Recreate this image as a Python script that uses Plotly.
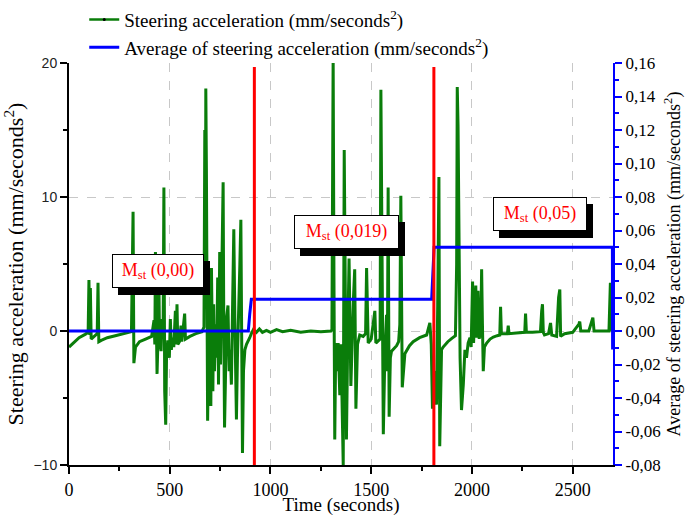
import plotly.graph_objects as go

# ---------------- data ----------------
time_s = [0, 20, 50, 80, 95, 99, 103, 106, 110, 125, 140, 144, 148, 160, 190, 230, 270, 310,
          318, 322, 330, 350, 380, 410, 422, 426, 429, 433, 437, 441, 445, 449, 457, 462, 467,
          471, 475, 480, 484, 490, 498, 503, 508, 513, 520, 528, 532, 536, 540, 548, 556, 560,
          574, 578, 600, 630, 660, 670, 674, 677, 679, 682, 685, 688, 692, 697, 700, 704, 707,
          710, 714, 718, 722, 728, 733, 738, 742, 748, 752, 757, 761, 765, 768, 772, 776, 782,
          789, 795, 800, 806, 812, 818, 823, 831, 836, 842, 848, 853, 857, 861, 866, 873, 881,
          889, 897, 905, 915, 930, 945, 960, 980, 1000, 1030, 1060, 1100, 1150, 1200, 1250,
          1300, 1305, 1311, 1315, 1319, 1324, 1330, 1336, 1344, 1350, 1356, 1361, 1366, 1371,
          1377, 1383, 1390, 1399, 1405, 1412, 1418, 1424, 1432, 1443, 1460, 1472, 1477, 1485,
          1500, 1510, 1518, 1523, 1535, 1544, 1548, 1553, 1560, 1568, 1576, 1580, 1584, 1589,
          1595, 1601, 1612, 1626, 1636, 1642, 1647, 1654, 1667, 1690, 1708, 1740, 1775, 1791,
          1798, 1804, 1815, 1824, 1830, 1836, 1840, 1849, 1857, 1880, 1900, 1918, 1924, 1927,
          1931, 1936, 1941, 1948, 1957, 1965, 1973, 1981, 1990, 1996, 2003, 2008, 2014, 2019,
          2023, 2030, 2036, 2040, 2043, 2048, 2052, 2056, 2062, 2073, 2090, 2106, 2125, 2138,
          2142, 2146, 2160, 2176, 2180, 2184, 2220, 2262, 2266, 2270, 2300, 2340, 2346, 2350,
          2354, 2360, 2380, 2390, 2396, 2420, 2430, 2436, 2440, 2460, 2500, 2530, 2535, 2540,
          2580, 2600, 2606, 2640, 2680, 2687, 2692, 2698]
steer_acc = [-1.2, -0.9, -0.5, -0.25, -0.1, 3.8, -0.3, 3.2, -0.6, -0.4, -0.2, 3.6, -0.8, -0.7,
             -0.5, -0.35, -0.2, -0.05, 8.9, -2.4, -1.2, -0.8, -0.6, -0.4, 0.8, -1.0, 5.9, 0.3,
             -3.2, -1.0, 5.6, -0.5, -1.5, 0.9, -0.3, 10.7, -4.5, -7.0, -2.0, -0.7, -2.0, 0.9,
             -1.4, -0.5, -1.2, 1.5, -1.0, 2.0, -1.0, -0.8, 0.4, -0.8, 1.3, -0.6, -0.4, -0.2,
             -0.05, 0.3, 15.0, 3.0, 18.1, 12.0, -4.0, -6.7, -2.0, 3.0, -3.0, -5.6, 4.7, -1.0,
             -4.5, 2.0, -3.0, 0.5, -2.0, 4.0, -4.0, 5.9, -2.5, 3.0, 9.0, 11.1, 1.0, -7.2, -4.0,
             1.0, 1.9, -3.0, -1.4, -4.0, 2.0, 7.6, 1.0, -6.6, -2.0, 3.0, 5.0, 8.3, -1.0, -9.1,
             -3.0, -1.4, -1.0, -0.8, -0.5, -0.2, 0.1, -0.1, 0.15, -0.1, 0.05, -0.1, 0.1, -0.05,
             0.05, -0.1, 0.0, -0.05, 0.0, 0.1, 20.5, 4.0, -8.1, -0.9, -3.0, -0.9, -4.8, -1.0,
             -6.0, -10.0, 13.5, 2.0, -8.1, -1.0, 5.4, -4.1, -0.5, 2.5, 4.6, -5.8, -1.0, -0.3,
             -0.4, -0.2, 4.7, -0.9, -0.6, 0.8, 1.5, -0.9, -0.7, -0.6, 18.0, 5.0, -7.7, -1.5,
             1.2, -3.0, 10.7, -6.4, -2.0, -1.5, -1.3, -1.1, -0.8, 0.5, 10.1, -4.2, -1.7, -1.1,
             -0.8, -0.5, -0.3, 0.6, -1.0, -5.8, -3.0, -5.5, 2.0, 11.5, -8.6, -1.4, -1.2, -0.8,
             -0.55, -0.35, 5.0, 18.2, 15.3, 5.0, -2.0, -5.9, -4.0, -1.4, -2.0, -0.9, -0.5,
             -1.2, 3.7, -0.9, 1.0, 3.4, -0.5, 3.0, -0.6, 1.5, -0.5, 4.6, 0.5, -3.0, -1.2, -0.9,
             -0.6, -0.45, -0.35, -0.3, 1.8, -0.2, -0.2, -0.2, 0.4, -0.2, -0.15, -0.1, 1.3, -0.1,
             -0.1, -0.05, 1.5, 2.0, -0.1, -0.3, -0.2, 0.6, -0.3, -0.4, 2.5, 3.1, -0.4, -0.2,
             -0.1, 0.5, 0.7, 0.0, 0.0, 1.0, 0.0, 0.0, 0.0, 3.6, 0.0, 0.1]

avg_time_s = [0, 890, 897, 905, 1800, 1806, 1812, 2697, 2698]
avg_steer_acc = [0.0, 0.0, 0.01, 0.019, 0.019, 0.035, 0.05, 0.05, -0.011]

boundary_time_s = [920, 1811]
boundary_low = -10
boundary_high = 19.7

x_tick_vals = [0, 500, 1000, 1500, 2000, 2500]
y_tick_vals = [-10, 0, 10, 20]
y2_tick_vals = [-0.08, -0.06, -0.04, -0.02, 0.0, 0.02, 0.04, 0.06, 0.08, 0.10, 0.12, 0.14, 0.16]
y2_tick_text = ["-0,08", "-0,06", "-0,04", "-0,02", "0,00", "0,02", "0,04", "0,06", "0,08",
                "0,10", "0,12", "0,14", "0,16"]

label_texts = ["M<sub>st</sub> (0,00)", "M<sub>st</sub> (0,019)", "M<sub>st</sub> (0,05)"]
label_x = [440, 1376, 2337]
label_y = [4.5, 7.4, 8.7]
label_w = [90, 103, 92]

GREEN = "#0a7d0a"
BLUE = "#0000ff"
RED = "#ff0000"
SERIF = "Liberation Serif, Times New Roman, serif"
SANS = "Liberation Sans, Arial, sans-serif"

fig = go.Figure()

fig.add_trace(go.Scatter(x=time_s, y=steer_acc, mode="lines",
                         line=dict(color=GREEN, width=3),
                         showlegend=False, xaxis="x", yaxis="y"))
# legend entry (line with a small black point)
fig.add_trace(go.Scatter(x=[None], y=[None], mode="lines+markers",
                         line=dict(color=GREEN, width=2.5),
                         marker=dict(color="black", size=3),
                         name="Steering acceleration (mm/seconds<sup>2</sup>)",
                         xaxis="x", yaxis="y"))
fig.add_trace(go.Scatter(x=avg_time_s, y=avg_steer_acc, mode="lines",
                         line=dict(color=BLUE, width=3),
                         name="Average of steering acceleration (mm/seconds<sup>2</sup>)",
                         xaxis="x", yaxis="y2"))
red_x, red_y = [], []
for t in boundary_time_s:
    red_x += [t, t, None]
    red_y += [boundary_low, boundary_high, None]
fig.add_trace(go.Scatter(x=red_x, y=red_y, mode="lines",
                         line=dict(color=RED, width=3),
                         showlegend=False, xaxis="x", yaxis="y3"))

annotations = []
for txt, x, y, w in zip(label_texts, label_x, label_y, label_w):
    annotations.append(dict(x=x, y=y, xref="x", yref="y", text=txt, showarrow=False,
                            font=dict(family=SERIF, size=18, color="black"),
                            bgcolor="black", bordercolor="black", borderwidth=1,
                            borderpad=0, width=w, height=32, xshift=6, yshift=-7))
    annotations.append(dict(x=x, y=y, xref="x", yref="y", text=txt, showarrow=False,
                            font=dict(family=SERIF, size=18, color=RED),
                            bgcolor="white", bordercolor="black", borderwidth=1,
                            borderpad=0, width=w, height=32))

fig.update_layout(
    width=698, height=516,
    margin=dict(l=69, r=85, t=63, b=51, autoexpand=False),
    plot_bgcolor="white", paper_bgcolor="white",
    font=dict(family=SERIF, color="black"),
    showlegend=True,
    legend=dict(x=0.028, y=1.155, xanchor="left", yanchor="top",
                font=dict(family=SERIF, size=19, color="black"),
                bgcolor="rgba(0,0,0,0)", tracegroupgap=0),
    xaxis=dict(range=[0, 2700], tickvals=x_tick_vals, ticks="outside", ticklen=7,
               tickwidth=2, tickcolor="black", showline=True, linecolor="black",
               linewidth=2, showgrid=True, gridcolor="#c8c8c8", griddash="dash",
               gridwidth=1, zeroline=False,
               minor=dict(dtick=250, ticks="outside", ticklen=4, tickwidth=2,
                          tickcolor="black", showgrid=False),
               tickfont=dict(family=SERIF, size=18, color="black"),
               title=dict(text="Time (seconds)", font=dict(family=SERIF, size=19),
                          standoff=0)),
    xaxis2=dict(overlaying="x", side="top", matches="x", tickvals=x_tick_vals,
                ticks="inside", ticklen=7, tickwidth=2, tickcolor="black",
                showticklabels=False, showline=True, linecolor="black", linewidth=2,
                showgrid=False, zeroline=False,
                minor=dict(dtick=250, ticks="inside", ticklen=4, tickwidth=2,
                           tickcolor="black")),
    yaxis=dict(range=[-10, 20], tickvals=y_tick_vals, ticks="outside", ticklen=7,
               tickwidth=2, tickcolor="black", showline=True, linecolor="black",
               linewidth=2, showgrid=True, gridcolor="#c8c8c8", griddash="dash",
               gridwidth=1, zeroline=False,
               minor=dict(dtick=5, ticks="outside", ticklen=4, tickwidth=2,
                          tickcolor="black", showgrid=False),
               tickfont=dict(family=SANS, size=14, color="#222"),
               title=dict(text="Steering acceleration (mm/seconds<sup>2</sup>)",
                          font=dict(family=SERIF, size=22), standoff=4)),
    yaxis2=dict(overlaying="y", side="right", range=[-0.08, 0.16],
                tickvals=y2_tick_vals, ticktext=y2_tick_text, ticks="outside",
                ticklen=7, tickwidth=2, tickcolor=BLUE, showline=True,
                linecolor=BLUE, linewidth=2, showgrid=False, zeroline=False,
                minor=dict(dtick=0.01, ticks="outside", ticklen=4, tickwidth=2,
                           tickcolor=BLUE),
                tickfont=dict(family=SERIF, size=17, color="black"),
                title=dict(text="Average of steering acceleration (mm/seconds<sup>2</sup>)",
                           font=dict(family=SERIF, size=18), standoff=3)),
    yaxis3=dict(overlaying="y", range=[-10, 20], visible=False),
    annotations=annotations,
)

fig.write_html("out.html", config={"displayModeBar": False},
               post_script="document.body.style.margin='0';document.body.style.padding='0';")
